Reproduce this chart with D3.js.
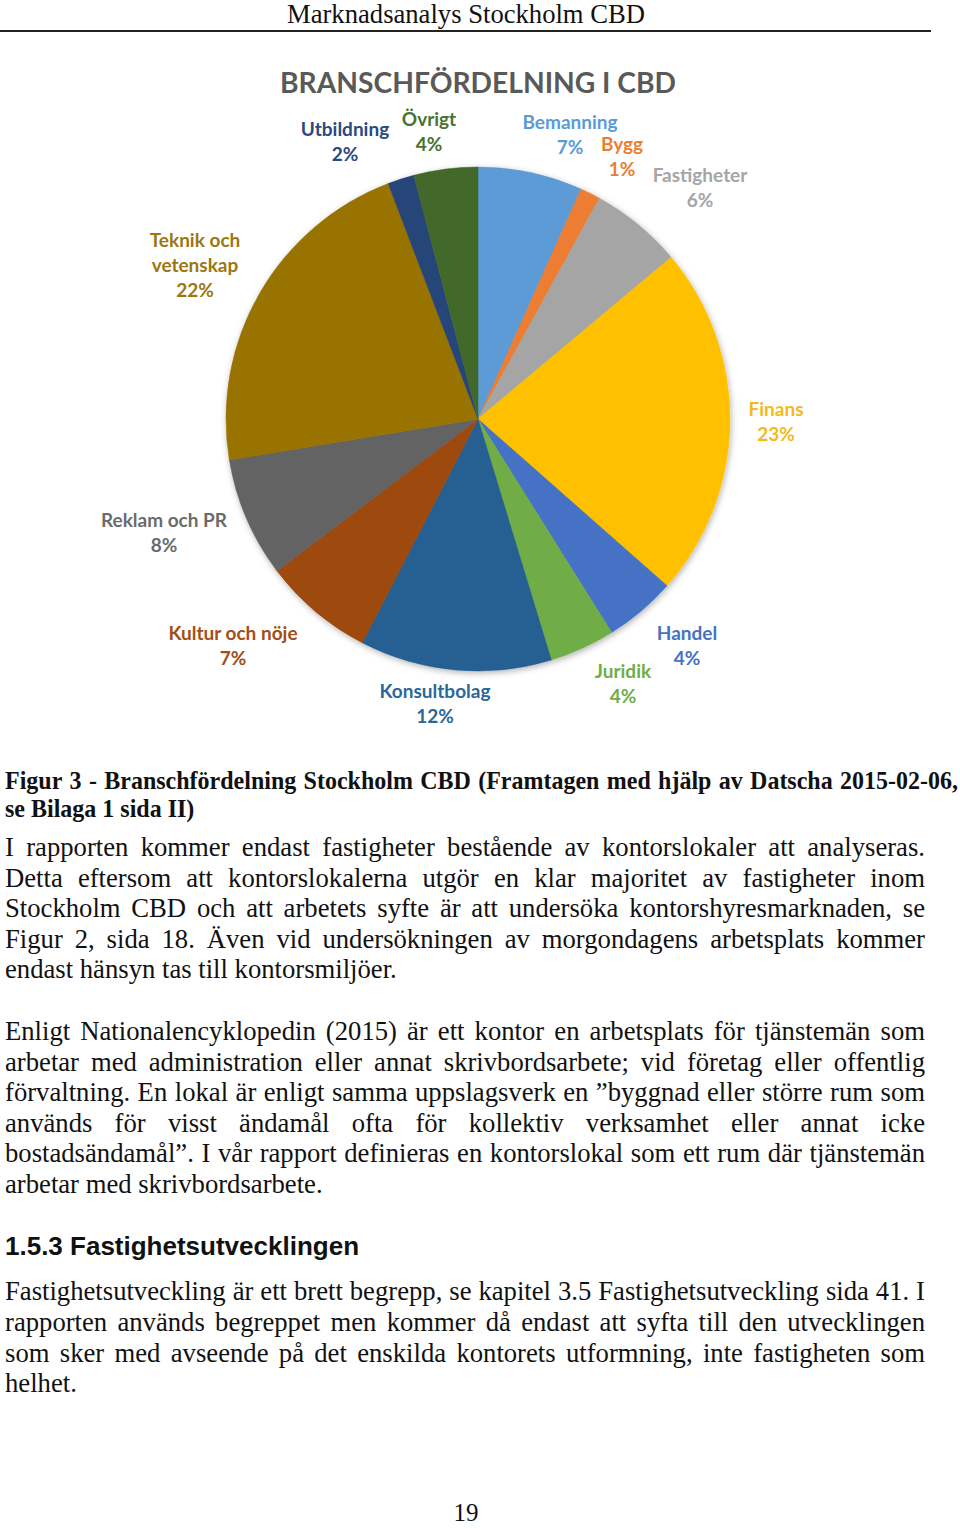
<!DOCTYPE html>
<html><head><meta charset="utf-8">
<script src="https://cdn.jsdelivr.net/npm/d3@7/dist/d3.min.js"></script>
<style>
html,body{margin:0;padding:0;background:#fff;}
svg{display:block;}
</style></head>
<body>
<script>
// ---- data ----
const categories = ["Bemanning","Bygg","Fastigheter","Finans","Handel","Juridik","Konsultbolag","Kultur och nöje","Reklam och PR","Teknik och vetenskap","Utbildning","Övrigt"];
const shares = [6.7, 1.3, 5.9, 22.6, 4.6, 4.2, 12.3, 7.1, 7.7, 21.8, 1.7, 4.1];
const pctLabels = ["7%","1%","6%","23%","4%","4%","12%","7%","8%","22%","2%","4%"];
const sliceColors = ["#5B9BD5","#ED7D31","#A5A5A5","#FFC000","#4472C4","#70AD47","#255E91","#9E480E","#636363","#997300","#264478","#43682B"];
const labelColors = ["#5B9BD5","#ED7D31","#A5A5A5","#F2BA1C","#4472C4","#70AD47","#2C6799","#A24E17","#6B6B6B","#9C7711","#2A4A80","#4A7330"];
const labelLines = [["Bemanning"],["Bygg"],["Fastigheter"],["Finans"],["Handel"],["Juridik"],["Konsultbolag"],["Kultur och nöje"],["Reklam och PR"],["Teknik och","vetenskap"],["Utbildning"],["Övrigt"]];
const chartTitle = "BRANSCHFÖRDELNING I CBD";
const pageHeader = "Marknadsanalys Stockholm CBD";
const captionLines = ["Figur 3 - Branschfördelning Stockholm CBD (Framtagen med hjälp av Datscha 2015-02-06,","se Bilaga 1 sida II)"];
const para1 = ["I rapporten kommer endast fastigheter bestående av kontorslokaler att analyseras.","Detta eftersom att kontorslokalerna utgör en klar majoritet av fastigheter inom","Stockholm CBD och att arbetets syfte är att undersöka kontorshyresmarknaden, se","Figur 2, sida 18. Även vid undersökningen av morgondagens arbetsplats kommer","endast hänsyn tas till kontorsmiljöer."];
const para2 = ["Enligt Nationalencyklopedin (2015) är ett kontor en arbetsplats för tjänstemän som","arbetar med administration eller annat skrivbordsarbete; vid företag eller offentlig","förvaltning. En lokal är enligt samma uppslagsverk en ”byggnad eller större rum som","används för visst ändamål ofta för kollektiv verksamhet eller annat icke","bostadsändamål”. I vår rapport definieras en kontorslokal som ett rum där tjänstemän","arbetar med skrivbordsarbete."];
const heading = "1.5.3 Fastighetsutvecklingen";
const para3 = ["Fastighetsutveckling är ett brett begrepp, se kapitel 3.5 Fastighetsutveckling sida 41. I","rapporten används begreppet men kommer då endast att syfta till den utvecklingen","som sker med avseende på det enskilda kontorets utformning, inte fastigheten som","helhet."];
const pageNumber = "19";

// ---- layout ----
const W = 960, H = 1529;
const cx = 478, cy = 419, R = 252;
const labelXY = [[570,129],[622,151],[700,182],[776,416],[687,640],[623,678],[435,698],[233,640],[164,527],[195,247],[345,136],[429,126]];

const svg = d3.select("body").append("svg").attr("width",W).attr("height",H);
const defs = svg.append("defs");
const f = defs.append("filter").attr("id","sh").attr("x","-20%").attr("y","-20%").attr("width","140%").attr("height","140%");
f.append("feDropShadow").attr("dx",1).attr("dy",2).attr("stdDeviation",3).attr("flood-color","#000").attr("flood-opacity",0.3);

// header
svg.append("text").attr("x",466).attr("y",23).attr("text-anchor","middle")
  .attr("font-family","Liberation Serif").attr("font-size",27).attr("fill","#111")
  .attr("textLength",358).attr("lengthAdjust","spacingAndGlyphs").text(pageHeader);
svg.append("rect").attr("x",0).attr("y",30).attr("width",931).attr("height",2).attr("fill","#222");

// chart title
svg.append("text").attr("x",478).attr("y",93).attr("text-anchor","middle")
  .attr("font-family","Lato").attr("font-weight","bold").attr("font-size",29).attr("fill","#595959")
  .attr("textLength",396).attr("lengthAdjust","spacingAndGlyphs").text(chartTitle);

// pie
const pie = d3.pie().sort(null).value(d=>d)(shares);
const arc = d3.arc().innerRadius(0).outerRadius(R);
const pg = svg.append("g").attr("transform",`translate(${cx},${cy})`);
pg.append("g").attr("filter","url(#sh)").selectAll("path").data(pie).join("path")
  .attr("d",arc).attr("fill",(d,i)=>sliceColors[i])
  .attr("stroke",(d,i)=>sliceColors[i]).attr("stroke-width",0.5);

// labels
const lg = svg.append("g").attr("font-family","Lato").attr("font-weight","bold").attr("font-size",19).attr("text-anchor","middle");
categories.forEach((c,i)=>{
  const [x,y] = labelXY[i];
  const lines = labelLines[i].concat([pctLabels[i]]);
  const t = lg.append("text").attr("fill",labelColors[i]);
  lines.forEach((l,k)=>{ t.append("tspan").attr("x",x).attr("y",y+k*25).text(l); });
});

// justified text helper (with optional horizontal scale)
function textLine(str, x0, x1, y, justify, font){
  const sx = font.sx || 1;
  const g = svg.append("g").attr("transform",`translate(${x0},${y}) scale(${sx},1)`);
  const t = g.append("text").attr("y",0)
    .attr("font-family",font.family).attr("font-size",font.size).attr("font-weight",font.weight||"normal")
    .attr("fill",font.color||"#111");
  if(!justify){ t.attr("x",0).text(str); return t; }
  const span = (x1-x0)/sx;
  const words = str.split(" ");
  const spans = words.map(w=>t.append("tspan").attr("x",0).text(w));
  const widths = spans.map(s=>s.node().getComputedTextLength());
  const total = d3.sum(widths);
  const gap = (span-total)/(words.length-1);
  let x = 0;
  spans.forEach((s,i)=>{ s.attr("x",x); x += widths[i]+gap; });
  return t;
}
const bodyFont = {family:"Liberation Serif", size:27.5, sx:0.97, color:"#111"};
const capFont = {family:"Liberation Serif", size:25, weight:"bold", sx:0.96, color:"#111"};

// caption
textLine(captionLines[0],5,958,789,true,capFont);
textLine(captionLines[1],5,958,817,false,capFont);

function para(lines, y0, step){
  lines.forEach((l,i)=>textLine(l,5,925,y0+i*step,i<lines.length-1,bodyFont));
}
para(para1,856,30.6);
para(para2,1040,30.6);
textLine(heading,5,925,1255,false,{family:"Liberation Sans",size:26,weight:"bold",color:"#111"});
para(para3,1300,30.8);

svg.append("text").attr("x",466).attr("y",1521).attr("text-anchor","middle")
  .attr("font-family","Liberation Serif").attr("font-size",25).attr("fill","#111").text(pageNumber);
</script>
</body></html>
